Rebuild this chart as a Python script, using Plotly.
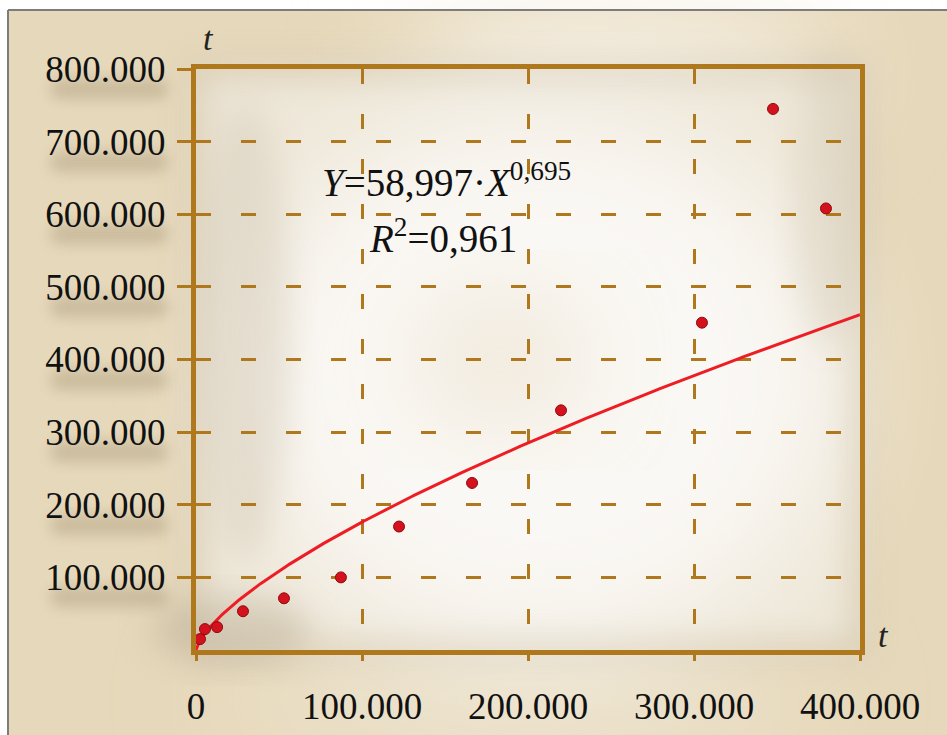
import base64
import numpy as np
import plotly.graph_objects as go

# Observed points (distance vs. time)
x_vals = [2400, 5400, 12700, 28300, 53000, 87300, 122300, 166300, 219900, 304800, 347600, 379500]
y_vals = [15000, 28800, 31500, 53400, 71200, 100000, 170000, 230000, 330000, 450700, 745000, 608000]

# Power-law fit Y = a * X^b
fit_a = 58.997
fit_b = 0.695
fit_r2 = "0,961"

x_ticks = [0, 100000, 200000, 300000, 400000]
x_tick_text = ["0", "100.000", "200.000", "300.000", "400.000"]
y_ticks = [100000, 200000, 300000, 400000, 500000, 600000, 700000, 800000]
y_tick_text = ["100.000", "200.000", "300.000", "400.000", "500.000", "600.000", "700.000", "800.000"]

W, H = 947, 735
L, R, T, B = 196, 87, 69, 85
PW, PH = W - L - R, H - T - B

BROWN = "#B0781C"
SERIF = "Liberation Serif, Times New Roman, serif"

# Decorative backdrop: beige card with soft light and shadow
label_shadows = "".join(
    f'<rect x="50" y="{T + PH * (1 - v / 800000) + 10:.0f}" width="118" height="20" rx="10" '
    f'fill="#A8977A" opacity="0.45" filter="url(#b3)"/>'
    for v in y_ticks
)
svg = f'''<svg xmlns="http://www.w3.org/2000/svg" width="{W}" height="{H}" viewBox="0 0 {W} {H}">
<defs>
<filter id="b1" x="-60%" y="-60%" width="220%" height="220%"><feGaussianBlur stdDeviation="55"/></filter>
<filter id="b2" x="-30%" y="-30%" width="160%" height="160%"><feGaussianBlur stdDeviation="16"/></filter>
<filter id="b3" x="-40%" y="-100%" width="180%" height="300%"><feGaussianBlur stdDeviation="7"/></filter>
</defs>
<rect width="{W}" height="{H}" fill="#ffffff"/>
<rect x="8" y="10" width="{W-8}" height="{H-10}" fill="#E6D8BA"/>
<ellipse cx="620" cy="70" rx="220" ry="70" fill="#F6F0E4" filter="url(#b1)"/>
<ellipse cx="520" cy="700" rx="300" ry="40" fill="#EFE7D6" filter="url(#b1)"/>
<rect x="{L}" y="{T}" width="{PW}" height="{PH}" fill="#EEE7D8" filter="url(#b2)"/>
<ellipse cx="540" cy="380" rx="300" ry="270" fill="#FAF8F4" filter="url(#b1)"/>
<ellipse cx="500" cy="360" rx="80" ry="50" fill="#E2D2B6" opacity="0.6" filter="url(#b1)"/>
<ellipse cx="245" cy="330" rx="45" ry="230" fill="#D3C9B6" opacity="0.45" filter="url(#b2)"/>
<ellipse cx="830" cy="200" rx="35" ry="150" fill="#D6CCB8" opacity="0.45" filter="url(#b2)"/>
<ellipse cx="230" cy="630" rx="80" ry="35" fill="#BFB29A" opacity="0.5" filter="url(#b2)"/>
<rect x="{L}" y="{T}" width="{PW}" height="{PH}" fill="none" stroke="#B2A58C" stroke-width="18" opacity="0.3" filter="url(#b2)"/>
{label_shadows}
<line x1="8" y1="10" x2="8" y2="{H}" stroke="#7C7C7C" stroke-width="2"/>
<line x1="8" y1="10" x2="{W}" y2="10" stroke="#7C7C7C" stroke-width="2"/>
</svg>'''
bg_uri = "data:image/svg+xml;base64," + base64.b64encode(svg.encode()).decode()

fig = go.Figure()

# Fitted curve
xf = np.linspace(0, 400000, 400)
yf = fit_a * xf ** fit_b
fig.add_trace(go.Scatter(x=xf, y=yf, mode="lines",
                         line=dict(color="#EE1D25", width=3), hoverinfo="skip"))

# Observations
fig.add_trace(go.Scatter(x=x_vals, y=y_vals, mode="markers",
                         marker=dict(color="#D3121E", size=11,
                                     line=dict(color="#8E0A10", width=1))))

axis_common = dict(
    showline=True, linecolor=BROWN, linewidth=5, mirror=True,
    showgrid=True, gridcolor=BROWN, gridwidth=2.5, griddash="15px,30px",
    zeroline=False, ticks="outside", tickcolor=BROWN, tickwidth=3,
    automargin=False,
    tickfont=dict(family=SERIF, size=37, color="#111111"),
)

fig.update_xaxes(range=[0, 400000], tickvals=x_ticks, ticktext=x_tick_text,
                 ticklen=6, ticklabelstandoff=14, **axis_common)
fig.update_yaxes(range=[0, 800000], tickvals=y_ticks, ticktext=y_tick_text,
                 ticklen=14, ticklabelstandoff=4, **axis_common)

eq_font = dict(family=SERIF, size=39, color="#111111")
annotations = [
    dict(text=f"<i>Y</i>=58,997·<i>X</i><sup>{str(fit_b).replace('.', ',')}</sup>",
         x=(446 - L) / PW, y=(T + PH - 180) / PH, xref="paper", yref="paper",
         xanchor="center", yanchor="middle", showarrow=False, font=eq_font),
    dict(text=f"<i>R</i><sup>2</sup>=" + fit_r2,
         x=(443 - L) / PW, y=(T + PH - 236) / PH, xref="paper", yref="paper",
         xanchor="center", yanchor="middle", showarrow=False, font=eq_font),
    dict(text="<i>t</i>", x=(208 - L) / PW, y=(T + PH - 38) / PH,
         xref="paper", yref="paper", xanchor="center", yanchor="middle",
         showarrow=False, font=dict(family=SERIF, size=34, color="#222222")),
    dict(text="<i>t</i>", x=(883 - L) / PW, y=(T + PH - 635) / PH,
         xref="paper", yref="paper", xanchor="center", yanchor="middle",
         showarrow=False, font=dict(family=SERIF, size=34, color="#222222")),
]

fig.update_layout(
    width=W, height=H,
    margin=dict(l=L, r=R, t=T, b=B),
    paper_bgcolor="#ffffff", plot_bgcolor="rgba(0,0,0,0)",
    showlegend=False,
    annotations=annotations,
    images=[dict(source=bg_uri, xref="paper", yref="paper",
                 x=-L / PW, y=(T + PH) / PH, sizex=W / PW, sizey=H / PH,
                 xanchor="left", yanchor="top", sizing="stretch", layer="below")],
)

fig.write_html("out.html")
